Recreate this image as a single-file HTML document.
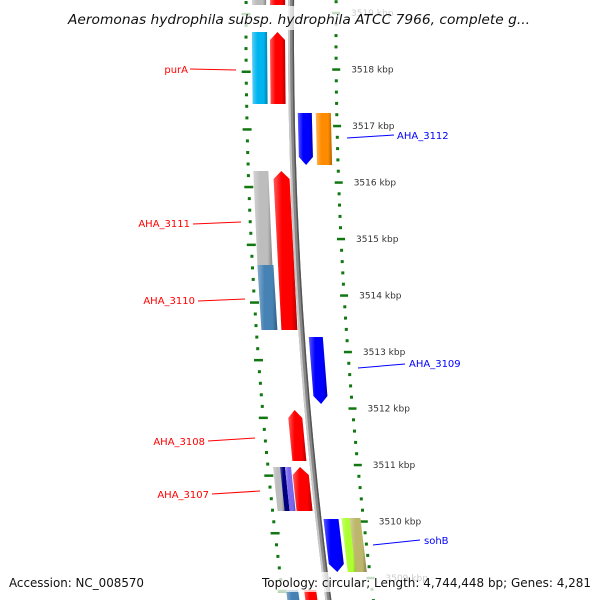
<!DOCTYPE html>
<html><head><meta charset="utf-8"><title>Genome map</title>
<style>html,body{margin:0;padding:0;background:#fff}svg{display:block}</style></head>
<body>
<svg id="map" width="600" height="600" viewBox="0 0 600 600" xmlns="http://www.w3.org/2000/svg" font-family="'DejaVu Sans','Liberation Sans',sans-serif">
<defs>
<linearGradient id="shade" x1="0" y1="0" x2="1" y2="0">
<stop offset="0" stop-color="#fff" stop-opacity="0.35"/>
<stop offset="0.35" stop-color="#fff" stop-opacity="0"/>
<stop offset="0.75" stop-color="#000" stop-opacity="0"/>
<stop offset="1" stop-color="#000" stop-opacity="0.3"/>
</linearGradient>
<linearGradient id="bb" x1="0" y1="0" x2="1" y2="0">
<stop offset="0" stop-color="#c8c8c8"/><stop offset="0.5" stop-color="#8a8a8a"/><stop offset="1" stop-color="#5a5a5a"/>
</linearGradient>
</defs>
<g id="ringL"></g>
<g id="ringR"></g>
<g id="backbone"></g>
<g id="feats"></g>
<g id="labels"></g>
<rect x="60" y="6" width="480" height="24" fill="#fff" fill-opacity="0.75"/>
<text x="299" y="24" text-anchor="middle" font-size="13" font-style="italic" fill="#111" textLength="462" lengthAdjust="spacingAndGlyphs">Aeromonas hydrophila subsp. hydrophila ATCC 7966, complete g...</text>
<rect x="4" y="572" width="126" height="20" fill="#fff" fill-opacity="0.75"/>
<rect x="258" y="572" width="338" height="20" fill="#fff" fill-opacity="0.75"/>
<text x="9" y="587" font-size="12" fill="#111" textLength="135" lengthAdjust="spacingAndGlyphs">Accession: NC_008570</text>
<text x="591" y="587" text-anchor="end" font-size="12" fill="#111" textLength="329" lengthAdjust="spacingAndGlyphs">Topology: circular; Length: 4,744,448 bp; Genes: 4,281</text>
</svg>
<script>
// tick data
const kbpLabels = [3519,3518,3517,3516,3515,3514,3513,3512,3511,3510,3509];
const rightMajorY0 = 13, rightStep = 56.5;
const leftMajorY0 = 14, leftStep = 57.7;
// feature data: [name, x1, x2, yTop, yBottom, color, strand]
const featNames = ['top-gray','top-red','purA','purA-neighbor','AHA_3112-a','AHA_3112','AHA_3111','AHA_3111-red','AHA_3110','AHA_3109','AHA_3108','AHA_3107-a','AHA_3107-b','AHA_3107-c','AHA_3107','sohB','sohB-b','sohB-c','bottom-blue','bottom-red'];
const featX1 = [252,270,252,270,297,315,251,271,251,298,271,251,258,263,270,296,314,322,250,268];
const featX2 = [266,285,267,285,311,330,266,287,267,312,285,258,263,269,286,311,323,333,262,280];
const featY1 = [-20,-20,32,32,113,113,171,171,265,337,410,467,467,467,467,519,518,518,590,590];
const featY2 = [5,5,104,104,165,165,265,330,330,404,461,511,511,511,511,572,572,572,620,620];
const featCol = ['#bbbbbb','#ff0000','#00b4f0','#ff0000','#0000ff','#ff8c00','#bdbdbd','#ff0000','#4682b4','#0000ff','#ff0000','#bdbdbd','#000080','#7b68ee','#ff0000','#0000ff','#adff2f','#bdb76b','#4682b4','#ff0000'];
const featDir = [0,1,0,1,-1,0,0,1,0,-1,1,0,0,0,1,-1,0,0,0,0];
// labels: text, textX, textY, lineX1, lineY1, lineX2, lineY2, color
const labText = ['purA','AHA_3111','AHA_3110','AHA_3108','AHA_3107','AHA_3112','AHA_3109','sohB'];
const labAnchor = ['end','end','end','end','end','start','start','start'];
const labTX = [188,190,195,205,209,397,409,424];
const labTY = [73,227,304,445,498,139,367,544];
const labL = [[190,69,236,70],[193,224,241,222],[198,301,245,299],[208,441,255,438],[212,494,260,491],[347,138,394,135],[358,368,405,364],[373,545,420,540]];
const labCol = ['#ff0000','#ff0000','#ff0000','#ff0000','#ff0000','#0000ff','#0000ff','#0000ff'];

const NS='http://www.w3.org/2000/svg';
function off(y){return 0.000115*(y-30)*(y-30);}
function P(x,y){return (x+off(y)).toFixed(1)+','+y.toFixed(1);}
function mk(tag,attrs,parent){const e=document.createElementNS(NS,tag);for(const k in attrs)e.setAttribute(k,attrs[k]);parent.appendChild(e);return e;}

// rings
const ringR=document.getElementById('ringR'), ringL=document.getElementById('ringL');
function ring(g,xr,y0,step,majorW,nameP){
  for(let i=-1;i<=55;i++){
    const y=y0+i*step/5; if(y<-5||y>605)continue;
    const major=(i%5===0);
    const w=major?majorW:3, h=major?2.5:3;
    const cx=xr+off(y);
    const r=mk('rect',{x:(cx-w/2).toFixed(1),y:(y-h/2).toFixed(1),width:w,height:h,fill:'#117711'},g);
    
    
  }
}
ring(ringR,336,rightMajorY0,rightStep,8,'right');
ring(ringL,246,leftMajorY0,leftStep,9,'left');
kbpLabels.forEach((k,i)=>{
  const y=rightMajorY0+i*rightStep;
  const t=mk('text',{x:(351+off(y)).toFixed(1),y:(y+3).toFixed(1),'font-size':'9',fill:'#333'},ringR);
  t.textContent=k+' kbp';
  
  
});

// backbone
const bbG=document.getElementById('backbone');
let pts=[];for(let y=-10;y<=610;y+=10)pts.push([y]);
let left=pts.map(p=>P(288,p[0])), right=pts.slice().reverse().map(p=>P(294,p[0]));
const bb=mk('polygon',{points:left.concat(right).join(' '),fill:'#888'},bbG);


const bb2=mk('polygon',{points:pts.map(p=>P(288,p[0])).concat(pts.slice().reverse().map(p=>P(290,p[0]))).join(' '),fill:'#c8c8c8'},bbG);


const bb3=mk('polygon',{points:pts.map(p=>P(292.5,p[0])).concat(pts.slice().reverse().map(p=>P(294,p[0]))).join(' '),fill:'#555'},bbG);



// features
const fg=document.getElementById('feats');
featNames.forEach((n,i)=>{
  const x1=featX1[i],x2=featX2[i],y1=featY1[i],y2=featY2[i],d=featDir[i];
  const m=(x1+x2)/2, tip=8;
  let poly;
  if(d===1) poly=[P(x1,y1+tip),P(m,y1),P(x2,y1+tip),P(x2,y2),P(x1,y2)];
  else if(d===-1) poly=[P(x1,y1),P(x2,y1),P(x2,y2-tip),P(m,y2),P(x1,y2-tip)];
  else poly=[P(x1,y1),P(x2,y1),P(x2,y2),P(x1,y2)];
  const g=mk('g',{},fg);
  
  
  mk('polygon',{points:poly.join(' '),fill:featCol[i]},g);
  mk('polygon',{points:poly.join(' '),fill:'url(#shade)'},g);
});

// labels
const lg=document.getElementById('labels');
labText.forEach((t,i)=>{
  const l=labL[i];
  const ln=mk('line',{x1:l[0],y1:l[1],x2:l[2],y2:l[3],stroke:labCol[i],'stroke-width':'1'},lg);
  
  
  const tx=mk('text',{x:labTX[i],y:labTY[i],'text-anchor':labAnchor[i],'font-size':'10',fill:labCol[i]},lg);
  tx.textContent=t;
  
  
});
</script>
</body></html>
